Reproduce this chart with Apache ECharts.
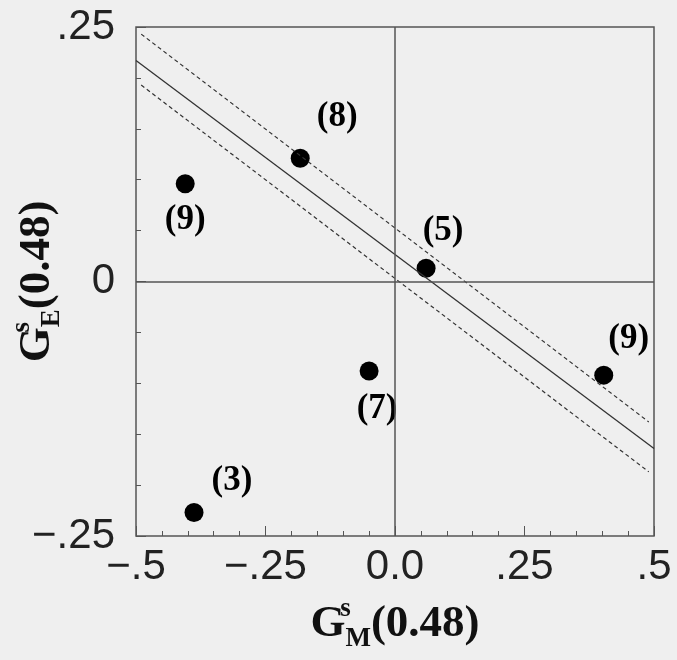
<!DOCTYPE html>
<html>
<head>
<meta charset="utf-8">
<script src="https://cdn.jsdelivr.net/npm/echarts@6/dist/echarts.min.js"></script>
<style>
  html, body { margin: 0; padding: 0; background: #efefef; }
  #chart { width: 677px; height: 660px; }
</style>
</head>
<body>
<div id="chart"></div>
<script>
// measured points (x = G_M, y = G_E) and their sample counts
const gmValues = [-0.405, -0.183, 0.060, 0.403, -0.050, -0.388];
const geValues = [0.096, 0.121, 0.013, -0.092, -0.088, -0.227];
const counts = ["(9)", "(8)", "(5)", "(9)", "(7)", "(3)"];

// fitted line and its error band, endpoints [x, y]
const fitLine = [[-0.5, 0.217], [0.5, -0.164]];
const upperBand = [[-0.49, 0.243], [0.49, -0.138]];
const lowerBand = [[-0.49, 0.193], [0.49, -0.187]];

const xTicks = { "-0.5": "\u2212.5", "-0.25": "\u2212.25", "0": "0.0", "0.25": ".25", "0.5": ".5" };
const yTicks = { "-0.25": "\u2212.25", "0": "0", "0.25": ".25" };

// where each count label sits relative to its dot (px)
const labelOffsets = [[0, 36], [37, -41], [17, -37], [25, -36], [8, 38], [38, -32]];

const chart = echarts.init(document.getElementById("chart"));

const axisColor = "#555";
const serif = "'Liberation Serif', 'DejaVu Serif', serif";
const sans = "'Liberation Sans', Arial, sans-serif";

const points = gmValues.map((x, i) => ({
    value: [x, geValues[i]],
    label: {
        show: true,
        formatter: counts[i],
        position: "inside",
        offset: labelOffsets[i],
        fontFamily: serif,
        fontWeight: "bold",
        fontSize: 35,
        color: "#000"
    }
}));

const nameRich = {
    g: { fontFamily: serif, fontWeight: "bold", fontSize: 45, color: "#111" },
    sup: { fontFamily: serif, fontWeight: "bold", fontSize: 27, color: "#111", width: 0, padding: [0, 0, 30, 0] },
    sub: { fontFamily: serif, fontWeight: "bold", fontSize: 27, color: "#111", padding: [30, 0, 0, 0] }
};

chart.setOption({
    backgroundColor: "#efefef",
    animation: false,
    grid: {
        left: 136,
        right: 23,
        top: 27,
        bottom: 124,
        outerBoundsMode: "none",
        containLabel: false,
        show: true,
        borderColor: axisColor,
        borderWidth: 1.5
    },
    xAxis: {
        type: "value",
        min: -0.5,
        max: 0.5,
        interval: 0.25,
        name: "{g|G}{sup|s}{sub|M}{g|(0.48)}",
        nameLocation: "middle",
        nameGap: 60,
        nameMoveOverlap: false,
        nameTextStyle: { rich: nameRich },
        axisLine: { show: false, onZero: false },
        axisTick: { show: true, inside: true, length: 10, lineStyle: { color: axisColor } },
        minorTick: { show: true, splitNumber: 5, length: 5, lineStyle: { color: axisColor } },
        splitLine: { show: false },
        axisLabel: {
            formatter: v => xTicks[String(v)],
            fontFamily: sans,
            fontSize: 42,
            color: "#222",
            margin: 10
        }
    },
    yAxis: {
        type: "value",
        min: -0.25,
        max: 0.25,
        interval: 0.25,
        name: "{g|G}{sup|s}{sub|E}{g|(0.48)}",
        nameLocation: "middle",
        nameRotate: 90,
        nameGap: 70,
        nameMoveOverlap: false,
        nameTextStyle: { rich: nameRich },
        axisLine: { show: false, onZero: false },
        axisTick: { show: true, inside: true, length: 10, lineStyle: { color: axisColor } },
        minorTick: { show: true, splitNumber: 5, length: 5, lineStyle: { color: axisColor } },
        splitLine: { show: false },
        axisLabel: {
            formatter: v => yTicks[String(v)],
            fontFamily: sans,
            fontSize: 42,
            color: "#222",
            margin: 21
        }
    },
    series: [
        {
            type: "line",
            data: fitLine,
            symbol: "none",
            lineStyle: { color: "#333", width: 1.3 },
            markLine: {
                silent: true,
                symbol: "none",
                label: { show: false },
                lineStyle: { color: axisColor, type: "solid", width: 1.5 },
                data: [{ xAxis: 0 }, { yAxis: 0 }]
            }
        },
        {
            type: "line",
            data: upperBand,
            symbol: "none",
            lineStyle: { color: "#333", width: 1.2, type: [4, 3] }
        },
        {
            type: "line",
            data: lowerBand,
            symbol: "none",
            lineStyle: { color: "#333", width: 1.2, type: [4, 3] }
        },
        {
            type: "scatter",
            data: points,
            symbolSize: 19,
            itemStyle: { color: "#000", opacity: 1 }
        }
    ]
});
</script>
</body>
</html>
